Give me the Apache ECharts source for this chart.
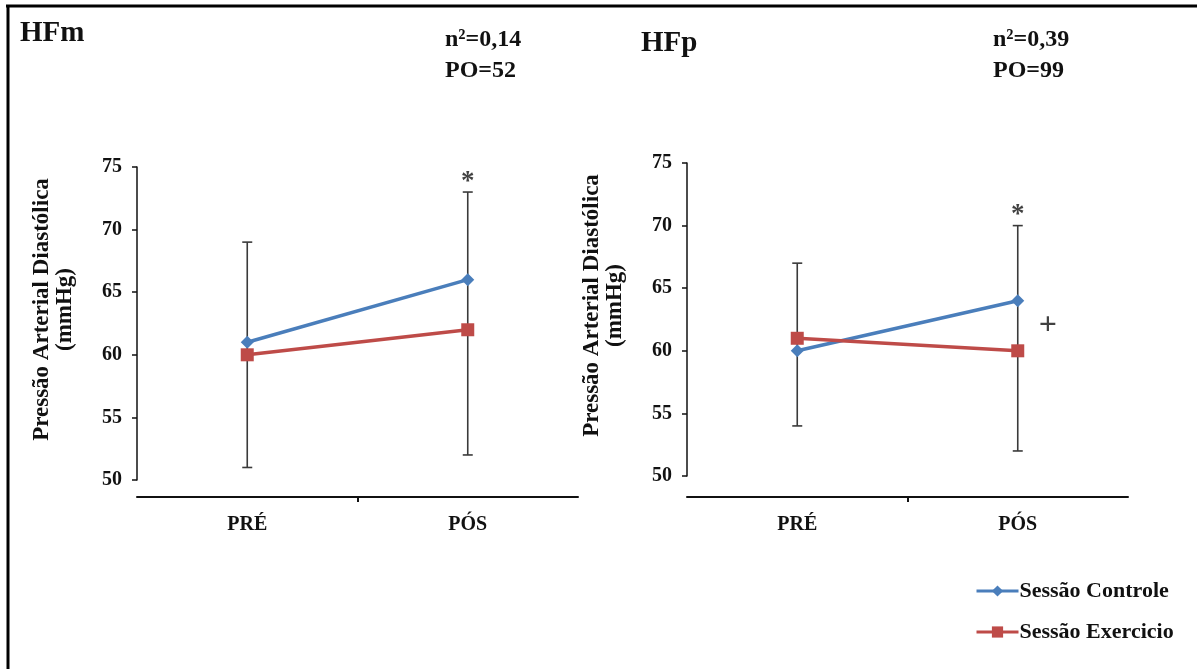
<!DOCTYPE html>
<html><head><meta charset="utf-8">
<script src="https://cdn.jsdelivr.net/npm/echarts@6/dist/echarts.min.js"></script>
<style>html,body{margin:0;padding:0;background:#fff}#c{width:1197px;height:669px}</style>
</head><body><div id="c"></div>
<script>
// ---- data ----
const categories = ['PRÉ', 'PÓS'];
const yMin = 50, yMax = 75, yStep = 5;
const hfmControle = [61, 66];
const hfmExercicio = [60, 62];
const hfmErrLow = [51, 52];
const hfmErrHigh = [69, 73];
const hfpControle = [60, 64];
const hfpExercicio = [61, 60];
const hfpErrLow = [54, 52];
const hfpErrHigh = [67, 70];
const panelTitles = ['HFm', 'HFp'];
const panelStats = ['n²=0,14\nPO=52', 'n²=0,39\nPO=99'];
const seriesNames = ['Sessão Controle', 'Sessão Exercicio'];
const yAxisTitle = 'Pressão Arterial Diastólica\n(mmHg)';

// ---- styles ----
const FONT = '"Liberation Serif", "Times New Roman", serif';
const BLUE = '#4A7EBB', RED = '#BE4B48', INK = '#111';

const catIdx = categories.map((c, i) => i);
const pairs = (vals) => catIdx.map(i => [i, vals[i]]);

function errRender(params, api) {
  const x = api.value(0);
  const lo = api.coord([x, api.value(1)]);
  const hi = api.coord([x, api.value(2)]);
  const hw = 5;
  const st = { stroke: '#3a3a3a', lineWidth: 1.6 };
  return { type: 'group', children: [
    { type: 'line', shape: { x1: lo[0], y1: lo[1], x2: hi[0], y2: hi[1] }, style: st },
    { type: 'line', shape: { x1: lo[0] - hw, y1: lo[1], x2: lo[0] + hw, y2: lo[1] }, style: st },
    { type: 'line', shape: { x1: hi[0] - hw, y1: hi[1], x2: hi[0] + hw, y2: hi[1] }, style: st }
  ]};
}

function yAxisCfg(idx) {
  return {
    type: 'value', gridIndex: idx, min: yMin, max: yMax, interval: yStep,
    axisLine: { show: true, onZero: false, lineStyle: { color: INK, width: 1.5 } },
    axisTick: { show: true, length: 5, lineStyle: { color: INK, width: 1.5 } },
    axisLabel: { fontFamily: FONT, fontSize: 20, fontWeight: 'bold', color: INK, margin: 15 },
    splitLine: { show: false },
    name: yAxisTitle, nameLocation: 'middle', nameRotate: 90, nameGap: 60,
    nameTextStyle: { fontFamily: FONT, fontSize: 23, fontWeight: 'bold', color: INK, lineHeight: 23, padding: [0, 0, 0, 28] }
  };
}
function xAxisCfg(idx, off) {
  return {
    type: 'value', gridIndex: idx, min: -0.5, max: catIdx.length - 0.5, offset: off,
    axisLine: { show: true, onZero: false, lineStyle: { color: INK, width: 2 } },
    axisTick: { show: true, length: 5, customValues: [0.5], lineStyle: { color: INK, width: 2 } },
    axisLabel: { fontFamily: FONT, fontSize: 20, fontWeight: 'bold', color: INK, margin: 18,
      customValues: catIdx, formatter: (v) => categories[Math.round(v)] },
    splitLine: { show: false }
  };
}

function panelSeries(idx, ctrl, exer, lo, hi) {
  return [
    { type: 'custom', xAxisIndex: idx, yAxisIndex: idx, silent: true, z: 1,
      renderItem: errRender, encode: { x: 0, y: [1, 2] },
      data: catIdx.map(i => [i, lo[i], hi[i]]) },
    { type: 'line', name: seriesNames[0], xAxisIndex: idx, yAxisIndex: idx, z: 3,
      data: pairs(ctrl), symbol: 'diamond', symbolSize: [13, 13],
      itemStyle: { color: BLUE }, lineStyle: { color: BLUE, width: 3.5 } },
    { type: 'line', name: seriesNames[1], xAxisIndex: idx, yAxisIndex: idx, z: 4,
      data: pairs(exer), symbol: 'rect', symbolSize: 13,
      itemStyle: { color: RED }, lineStyle: { color: RED, width: 3.5 } },
    { type: 'scatter', xAxisIndex: idx, yAxisIndex: idx, silent: true, symbolSize: 0, z: 5,
      data: [[1, hi[1]]],
      label: { show: true, position: 'top', distance: -3, formatter: '*', fontFamily: FONT, fontSize: 27, fontWeight: 'bold', color: INK } }
  ];
}

const series = [].concat(
  panelSeries(0, hfmControle, hfmExercicio, hfmErrLow, hfmErrHigh),
  panelSeries(1, hfpControle, hfpExercicio, hfpErrLow, hfpErrHigh),
  [{ type: 'scatter', xAxisIndex: 1, yAxisIndex: 1, silent: true, symbolSize: 0, z: 5,
     data: [[1, (hfpControle[1] + hfpExercicio[1]) / 2]],
     label: { show: true, position: 'right', distance: 21, formatter: '+', fontFamily: FONT, fontSize: 32, fontWeight: 'bold', color: INK } }]
);

const chart = echarts.init(document.getElementById('c'), null, { renderer: 'canvas' });
chart.setOption({
  animation: false,
  backgroundColor: '#fff',
  title: [
    { text: panelTitles[0], left: 15, top: 14, textStyle: { fontFamily: FONT, fontSize: 29, fontWeight: 'bold', color: INK } },
    { text: panelStats[0], left: 440, top: 19, textStyle: { fontFamily: FONT, fontSize: 24, fontWeight: 'bold', color: INK, lineHeight: 31 } },
    { text: panelTitles[1], left: 636, top: 24, textStyle: { fontFamily: FONT, fontSize: 29, fontWeight: 'bold', color: INK } },
    { text: panelStats[1], left: 988, top: 19, textStyle: { fontFamily: FONT, fontSize: 24, fontWeight: 'bold', color: INK, lineHeight: 31 } }
  ],
  legend: {
    orient: 'vertical', left: 970, top: 575, itemWidth: 42, itemHeight: 14, itemGap: 19,
    data: seriesNames,
    lineStyle: { width: 3 },
    textStyle: { fontFamily: FONT, fontSize: 22, fontWeight: 'bold', color: INK, padding: [0, 0, 0, -4] }
  },
  grid: [
    { left: 137, top: 167, width: 441, height: 313 },
    { left: 687, top: 163, width: 441, height: 313 }
  ],
  xAxis: [xAxisCfg(0, 17), xAxisCfg(1, 21)],
  yAxis: [yAxisCfg(0), yAxisCfg(1)],
  series: series,
  graphic: [
    { type: 'line', shape: { x1: 6, y1: 6, x2: 1197, y2: 6 }, style: { stroke: '#000', lineWidth: 3 } },
    { type: 'line', shape: { x1: 8, y1: 5, x2: 8, y2: 669 }, style: { stroke: '#000', lineWidth: 3 } }
  ]
});
</script>
</body></html>
